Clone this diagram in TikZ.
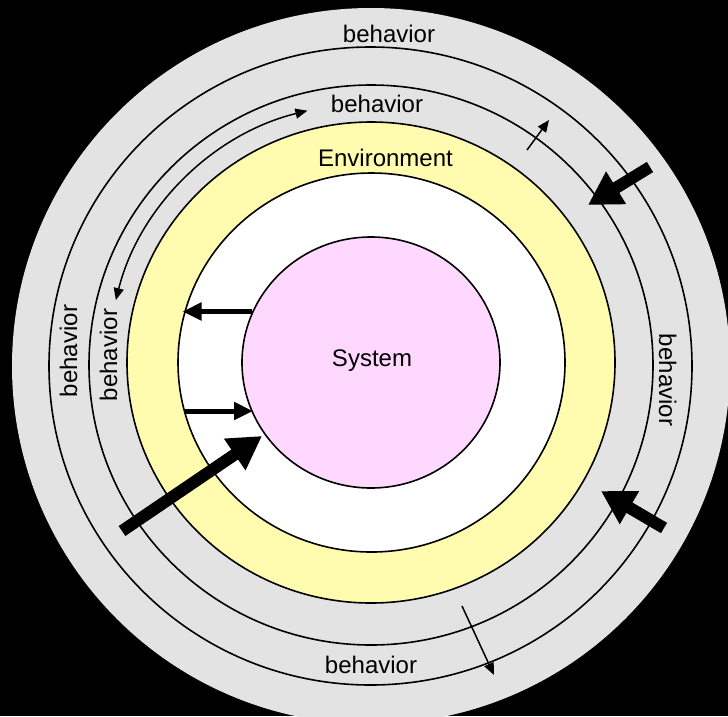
\documentclass[tikz,border=0pt]{standalone}
\usepackage{fontspec}
\setmainfont{Liberation Sans}
\usetikzlibrary{arrows.meta}
\definecolor{ringgray}{RGB}{227,227,227}
\definecolor{envyellow}{RGB}{255,252,176}
\definecolor{syspink}{RGB}{255,216,255}
\begin{document}
\begin{tikzpicture}[x=1pt,y=-1pt,
  outline/.style={line width=1.6pt},
  lbl/.style={font=\fontsize{24}{28}\selectfont, inner sep=0pt, anchor=base},
  heavyarrow/.style={line width=12pt, -{Triangle[length=33pt,width=36pt]}},
  midarrow/.style={line width=5pt, -{Triangle[length=19pt,width=17pt]}},
  thinarrow/.style={line width=1.5pt, -{Triangle[length=12pt,width=10pt]}},
  curvearrow/.style={line width=1.5pt, {Triangle[length=12pt,width=10pt]}-{Triangle[length=12pt,width=10pt]}},
]
\useasboundingbox (0,0) rectangle (728,716);
\fill[black] (0,0) rectangle (728,716);
\clip (0,0) rectangle (728,716);

% rings, from the outside in
\fill[ringgray] (371,366) ellipse [x radius=359, y radius=358];
\draw[outline] (370.5,366) ellipse [x radius=321.5, y radius=319];
\draw[outline] (371,365) ellipse [x radius=282, y radius=280];
\filldraw[outline, fill=envyellow] (371,362.5) ellipse [x radius=244, y radius=240.5];
\filldraw[outline, fill=white] (371.5,362.5) ellipse [x radius=193.5, y radius=189.5];
\filldraw[outline, fill=syspink] (371,362.5) ellipse [x radius=129, y radius=125.5];

% labels
\node[lbl] (bTopOut) at (389,42) {behavior};
\node[lbl] (bTopIn) at (377,112) {behavior};
\node[lbl] (env) at (385.5,166) {Environment};
\node[lbl] (sys) at (372,366) {System};
\node[lbl] (bBot) at (371,673) {behavior};
\node[lbl, rotate=90] (bLeftOut) at (77,351) {behavior};
\node[lbl, rotate=90] (bLeftIn) at (117,355) {behavior};
\node[lbl, rotate=-90] (bRight) at (659,380) {behavior};

% arrow end points
\coordinate (arcTop) at (307.4,110.7);
\coordinate (inTailA) at (650,167);
\coordinate (inHeadA) at (588,205);
\coordinate (inTailB) at (664,528);
\coordinate (inHeadB) at (601,491);
\coordinate (inTailC) at (122,531);
\coordinate (inHeadC) at (262,436);
\coordinate (outStart) at (252,311.5);
\coordinate (outEnd) at (182.5,311.5);
\coordinate (backStart) at (185,411);
\coordinate (backEnd) at (253,411);
\coordinate (upStart) at (527,150);
\coordinate (upEnd) at (549,120);
\coordinate (downStart) at (462,606);
\coordinate (downEnd) at (494,675);

% arrows
\draw[curvearrow] (arcTop) arc[start angle=-104, end angle=-166, x radius=263, y radius=260];
\draw[heavyarrow] (inTailA) -- (inHeadA);
\draw[heavyarrow] (inTailB) -- (inHeadB);
\draw[heavyarrow] (inTailC) -- (inHeadC);
\draw[midarrow] (outStart) -- (outEnd);
\draw[midarrow] (backStart) -- (backEnd);
\draw[thinarrow] (upStart) -- (upEnd);
\draw[thinarrow] (downStart) -- (downEnd);
\end{tikzpicture}
\end{document}
